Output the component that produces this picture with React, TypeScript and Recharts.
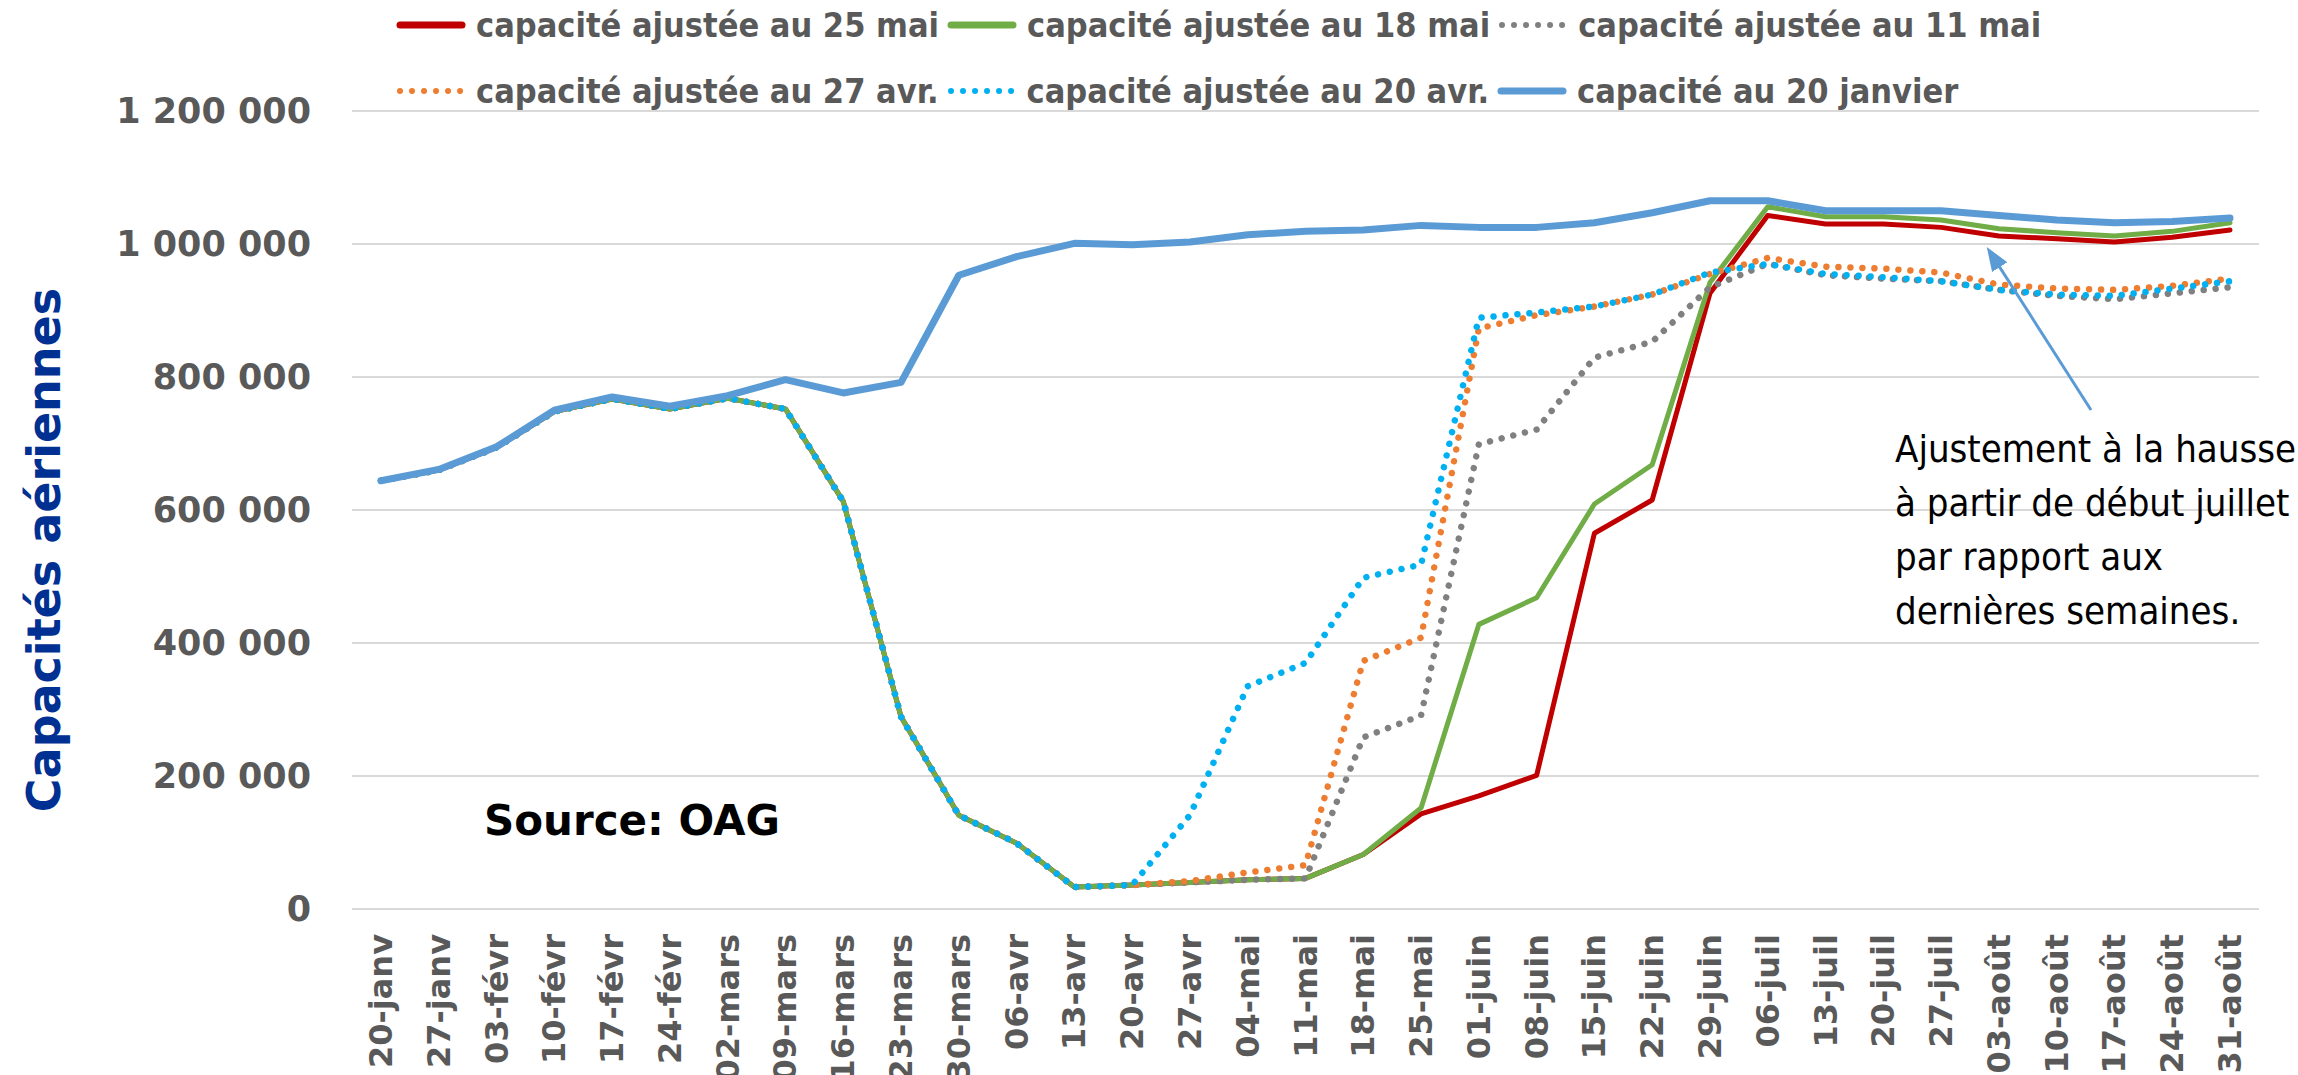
import React from "react";
import { LineChart, Line, XAxis, YAxis, CartesianGrid } from "recharts";

const WIDTH = 2298;
const HEIGHT = 1075;

const CATEGORIES = [
  "20-janv", "27-janv", "03-févr", "10-févr", "17-févr", "24-févr", "02-mars",
  "09-mars", "16-mars", "23-mars", "30-mars", "06-avr", "13-avr", "20-avr",
  "27-avr", "04-mai", "11-mai", "18-mai", "25-mai", "01-juin", "08-juin",
  "15-juin", "22-juin", "29-juin", "06-juil", "13-juil", "20-juil", "27-juil",
  "03-août", "10-août", "17-août", "24-août", "31-août",
];

// weekly seat capacity
const ADJ_25_MAI = [
  644000, 660000, 694000, 748000, 767000, 752000, 768000, 752000, 613000, 289000, 141000,
  99000, 33000, 36000, 40000, 44000, 46000, 82000, 143000, 170000, 201000, 565000,
  615000, 926000, 1043000, 1030000, 1030000, 1025000, 1012000, 1008000, 1003000, 1010000, 1021000,
];
const ADJ_18_MAI = [
  644000, 660000, 694000, 748000, 767000, 752000, 768000, 752000, 613000, 289000, 141000,
  99000, 33000, 36000, 40000, 44000, 46000, 82000, 152000, 428000, 468000, 609000,
  668000, 942000, 1056000, 1041000, 1041000, 1036000, 1023000, 1017000, 1012000, 1019000, 1032000,
];
const ADJ_11_MAI = [
  644000, 660000, 694000, 748000, 767000, 752000, 768000, 752000, 613000, 289000, 141000,
  99000, 33000, 36000, 40000, 44000, 46000, 258000, 291000, 699000, 721000, 829000,
  853000, 935000, 970000, 953000, 948000, 944000, 931000, 922000, 917000, 926000, 935000,
];
const ADJ_27_AVR = [
  644000, 660000, 694000, 748000, 767000, 752000, 768000, 752000, 613000, 289000, 141000,
  99000, 33000, 36000, 42000, 55000, 66000, 373000, 408000, 873000, 893000, 906000,
  924000, 955000, 979000, 966000, 963000, 957000, 939000, 933000, 931000, 937000, 948000,
];
const ADJ_20_AVR = [
  644000, 660000, 694000, 748000, 767000, 752000, 768000, 752000, 613000, 289000, 141000,
  99000, 33000, 36000, 141000, 335000, 370000, 498000, 518000, 889000, 897000, 906000,
  924000, 957000, 970000, 955000, 950000, 944000, 931000, 924000, 922000, 933000, 944000,
];
const BASE_20_JANV = [
  644000, 661000, 695000, 750000, 770000, 756000, 772000, 796000, 776000, 792000, 953000,
  981000, 1001000, 999000, 1003000, 1014000, 1019000, 1021000, 1028000, 1025000, 1025000, 1032000,
  1047000, 1065000, 1065000, 1050000, 1050000, 1050000, 1043000, 1036000, 1032000, 1034000, 1039000,
];

const Y_TICKS = [0, 200000, 400000, 600000, 800000, 1000000, 1200000];

const SERIES = [
  { key: "mai25", label: "capacité ajustée au 25 mai", values: ADJ_25_MAI, color: "#C00000", dotted: false, width: 5 },
  { key: "mai18", label: "capacité ajustée au 18 mai", values: ADJ_18_MAI, color: "#70AD47", dotted: false, width: 5 },
  { key: "mai11", label: "capacité ajustée au 11 mai", values: ADJ_11_MAI, color: "#808080", dotted: true, width: 6.5 },
  { key: "avr27", label: "capacité ajustée au 27 avr.", values: ADJ_27_AVR, color: "#ED7D31", dotted: true, width: 6.5 },
  { key: "avr20", label: "capacité ajustée au 20 avr.", values: ADJ_20_AVR, color: "#00B0F0", dotted: true, width: 6.5 },
  { key: "janv20", label: "capacité au 20 janvier", values: BASE_20_JANV, color: "#5B9BD5", dotted: false, width: 7 },
];

const chartData = CATEGORIES.map((cat, i) => {
  const row: Record<string, string | number> = { cat };
  SERIES.forEach((s) => {
    row[s.key] = s.values[i];
  });
  return row;
});

const GREY = "#595959";
const BOLD_FONT = "'DejaVu Sans', sans-serif";
const NARROW_FONT = "'DejaVu Sans Condensed', 'DejaVu Sans', sans-serif";

const formatThousands = (v: number) => String(v).replace(/\B(?=(\d{3})+(?!\d))/g, " ");

// rotated date labels under the axis
function DateTick(props: any) {
  const { x, y, payload } = props;
  return (
    <text
      transform={`translate(${x},${y}) rotate(-90)`}
      textAnchor="end"
      dominantBaseline="central"
      fill={GREY}
      fontFamily={BOLD_FONT}
      fontWeight="bold"
      fontSize={32}
    >
      {payload.value}
    </text>
  );
}

function LegendMarker({ color, dotted }: { color: string; dotted: boolean }) {
  return (
    <svg width={70} height={12} style={{ display: "block" }}>
      <line
        x1={4}
        y1={6}
        x2={66}
        y2={6}
        stroke={color}
        strokeWidth={dotted ? 6 : 7}
        strokeLinecap="round"
        strokeDasharray={dotted ? "0.01 12" : undefined}
      />
    </svg>
  );
}

function LegendRows() {
  const rows = [SERIES.slice(0, 3), SERIES.slice(3)];
  return (
    <div style={{ position: "absolute", left: 396, top: 4, fontFamily: NARROW_FONT, fontStretch: "condensed" }}>
      {rows.map((row, r) => (
        <div key={r} style={{ display: "flex", alignItems: "center", height: 42, marginBottom: r === 0 ? 24 : 0 }}>
          {row.map((s) => (
            <div key={s.key} style={{ display: "flex", alignItems: "center", marginRight: 8 }}>
              <LegendMarker color={s.color} dotted={s.dotted} />
              <span style={{ marginLeft: 10, fontSize: 34, fontWeight: "bold", color: GREY, whiteSpace: "nowrap" }}>
                {s.label}
              </span>
            </div>
          ))}
        </div>
      ))}
    </div>
  );
}

function Annotations() {
  return (
    <svg width={WIDTH} height={HEIGHT} style={{ position: "absolute", left: 0, top: 0, pointerEvents: "none" }}>
      <defs>
        <marker id="arrowHead" markerWidth="8" markerHeight="6" refX="6" refY="3" orient="auto" markerUnits="strokeWidth">
          <path d="M0,0 L8,3 L0,6 Z" fill="#5B9BD5" />
        </marker>
      </defs>
      <text
        transform="translate(44,550) rotate(-90)"
        textAnchor="middle"
        dominantBaseline="central"
        fill="#003192"
        fontFamily={BOLD_FONT}
        fontWeight="bold"
        fontSize={46}
      >
        Capacités aériennes
      </text>
      <text x={484} y={820} dominantBaseline="central" fill="#000" fontFamily={BOLD_FONT} fontWeight="bold" fontSize={42}>
        Source: OAG
      </text>
      <line x1={2091} y1={410} x2={1990} y2={252} stroke="#5B9BD5" strokeWidth={3} markerEnd="url(#arrowHead)" />
      <text x={1895} y={449} fill="#000" fontFamily={NARROW_FONT} fontSize={38} dominantBaseline="central">
        <tspan x={1895} dy={0}>Ajustement à la hausse</tspan>
        <tspan x={1895} dy={54}>à partir de début juillet</tspan>
        <tspan x={1895} dy={54}>par rapport aux</tspan>
        <tspan x={1895} dy={54}>dernières semaines.</tspan>
      </text>
    </svg>
  );
}

export default function App() {
  return (
    <div style={{ position: "absolute", left: 0, top: 0, width: WIDTH, height: HEIGHT, background: "#fff" }}>
      <LineChart width={WIDTH} height={HEIGHT} data={chartData} margin={{ top: 111, right: 39, bottom: 0, left: 0 }}>
        <CartesianGrid vertical={false} stroke="#D9D9D9" strokeWidth={2} />
        <XAxis
          dataKey="cat"
          interval={0}
          tick={<DateTick />}
          tickLine={false}
          axisLine={false}
          height={166}
          padding={{ left: 29, right: 29 }}
          tickSize={0}
          tickMargin={25}
        />
        <YAxis
          domain={[0, 1200000]}
          ticks={Y_TICKS}
          width={352}
          tickFormatter={formatThousands}
          tick={{ fill: GREY, fontSize: 35, fontWeight: "bold", fontFamily: BOLD_FONT }}
          tickLine={false}
          axisLine={false}
          tickSize={0}
          tickMargin={41}
        />
        {SERIES.map((s) => (
          <Line
            key={s.key}
            type="linear"
            dataKey={s.key}
            name={s.label}
            stroke={s.color}
            strokeWidth={s.width}
            strokeDasharray={s.dotted ? "0.01 12" : undefined}
            strokeLinecap="round"
            strokeLinejoin="round"
            dot={false}
            activeDot={false}
            isAnimationActive={false}
          />
        ))}
      </LineChart>
      <LegendRows />
      <Annotations />
    </div>
  );
}
